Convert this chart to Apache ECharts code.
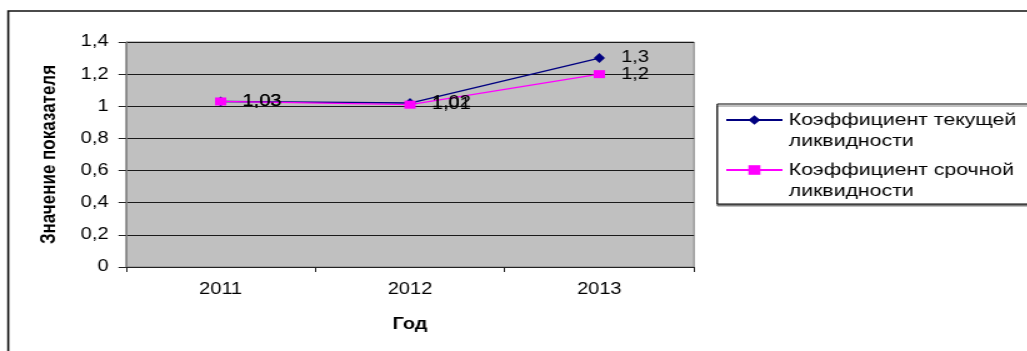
<!DOCTYPE html>
<html>
<head>
<meta charset="utf-8">
<script src="https://cdn.jsdelivr.net/npm/echarts@6/dist/echarts.min.js"></script>
<style>
  html, body { margin: 0; padding: 0; background: #fff; overflow: hidden; }
  /* The chart is laid out narrow and widened horizontally, like a stretched Excel picture */
  #chart { width: 821.6px; height: 351px; transform: scaleX(1.25); transform-origin: 0 0; }
</style>
</head>
<body>
<div id="chart"></div>
<script>
// Years on the category axis
const years = ['2011', '2012', '2013'];
// Current liquidity ratio
const currentRatio = [1.03, 1.02, 1.3];
// Quick liquidity ratio
const quickRatio = [1.03, 1.01, 1.2];
// Value axis range
const yMin = 0;
const yMax = 1.4;
const yStep = 0.2;

const seriesNames = ['Коэффициент текущей ликвидности', 'Коэффициент срочной ликвидности'];

const FONT = '"Liberation Sans", Arial, sans-serif';
const comma = v => String(parseFloat(Number(v).toFixed(2))).replace('.', ',');

const chart = echarts.init(document.getElementById('chart'), null, { renderer: 'canvas' });

const legendText = {
  color: '#000',
  fontFamily: FONT,
  fontSize: 17,
  lineHeight: 21
};
// Two-line legend label whose first line sits level with the marker:
// an empty leading line keeps the block centred on that first line.
const legendLabel = n => ' \n' + n.replace(' ликвидности', '\nликвидности');

chart.setOption({
  animation: false,
  backgroundColor: '#fff',
  graphic: [
    { // outer chart frame
      type: 'rect', z: -10, silent: true,
      shape: { x: 6.6, y: 11, width: 900, height: 500 },
      style: { fill: 'none', stroke: '#111', lineWidth: 1.6 }
    },
    { // legend frame
      type: 'rect', z: -5, silent: true,
      shape: { x: 573.8, y: 104, width: 300, height: 100 },
      style: { fill: '#fff', stroke: '#000', lineWidth: 1,
               shadowColor: '#808080', shadowOffsetY: 2, shadowOffsetX: 0, shadowBlur: 0 }
    }
  ],
  grid: {
    left: 100.8, top: 42, width: 454.4, height: 225,
    show: true, backgroundColor: '#c0c0c0', borderColor: '#808080', borderWidth: 1
  },
  legend: [
    {
      data: [seriesNames[0]], left: 580, top: 88.5, padding: 0,
      itemWidth: 45, itemHeight: 12, itemGap: 5,
      textStyle: legendText,
      formatter: legendLabel
    },
    {
      data: [seriesNames[1]], left: 580, top: 138.5, padding: 0,
      itemWidth: 45, itemHeight: 12, itemGap: 5,
      textStyle: legendText,
      formatter: legendLabel
    }
  ],
  xAxis: {
    type: 'category',
    data: years,
    boundaryGap: true,
    name: 'Год',
    nameLocation: 'middle',
    nameGap: 50,
    nameTextStyle: { color: '#000', fontFamily: FONT, fontSize: 16, fontWeight: 'bold' },
    axisLine: { lineStyle: { color: '#222', width: 1 } },
    axisTick: { show: true, length: 5, lineStyle: { color: '#222' } },
    axisLabel: { color: '#000', fontFamily: FONT, fontSize: 16, margin: 15 },
    splitLine: { show: false }
  },
  yAxis: {
    type: 'value',
    min: yMin, max: yMax, interval: yStep,
    name: 'Значение показателя',
    nameLocation: 'middle',
    nameGap: 53,
    nameTextStyle: { color: '#000', fontFamily: FONT, fontSize: 17, fontWeight: 'bold' },
    axisLine: { show: true, lineStyle: { color: '#808080', width: 1 } },
    axisTick: { show: true, length: 6, lineStyle: { color: '#222' } },
    axisLabel: { color: '#000', fontFamily: FONT, fontSize: 16, margin: 14,
                 formatter: v => comma(v) },
    splitLine: { show: true, lineStyle: { color: '#1a1a1a', width: 1 } }
  },
  series: [
    {
      name: seriesNames[0],
      type: 'line',
      data: currentRatio,
      symbol: 'diamond',
      symbolSize: [9, 10],
      showAllSymbol: true,
      itemStyle: { color: '#000080' },
      lineStyle: { color: '#000080', width: 1.4 },
      label: { show: true, position: 'right', distance: 13, color: '#000',
               fontFamily: FONT, fontSize: 16, formatter: p => comma(p.value) }
    },
    {
      name: seriesNames[1],
      type: 'line',
      data: quickRatio,
      symbol: 'rect',
      symbolSize: [9, 8],
      showAllSymbol: true,
      itemStyle: { color: '#ff00ff' },
      lineStyle: { color: '#ff00ff', width: 1.2 },
      label: { show: true, position: 'right', distance: 13, color: '#000',
               fontFamily: FONT, fontSize: 16, formatter: p => comma(p.value) }
    }
  ]
});
</script>
</body>
</html>
